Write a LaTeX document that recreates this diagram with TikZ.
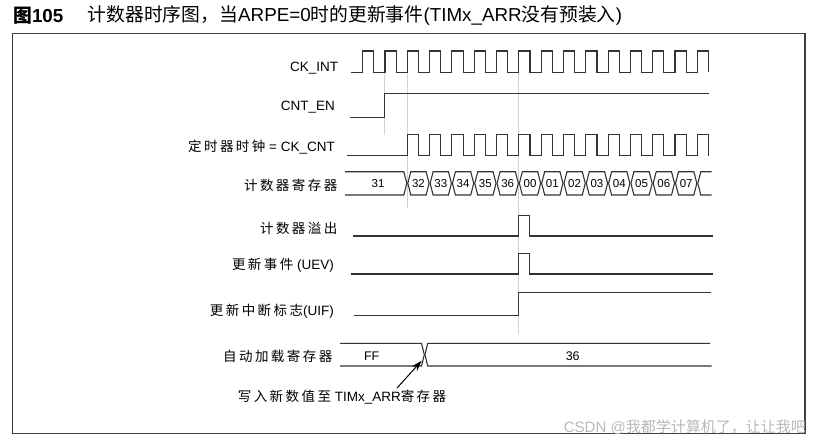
\documentclass[tikz,border=0pt]{standalone}
\usepackage{fontspec}
\setmainfont{Liberation Sans}
\newfontfamily\zh{Noto Sans CJK SC}
\newfontfamily\zhs[LetterSpace=18]{Noto Sans CJK SC}
\usetikzlibrary{arrows.meta, positioning}

\begin{document}
\begin{tikzpicture}[
            x = 1pt, y = -1pt,
            > = {Stealth[length=11pt, width=7pt]},
            wave/.style = {draw=black!80, line width=1.1pt},
            guide/.style = {draw=black!18, line width=0.9pt},
            lbl/.style = {anchor=east, inner sep=0pt, font=\fontsize{13.5}{15}\selectfont},
            val/.style = {inner sep=0pt, font=\fontsize{11.5}{13}\selectfont}
        ]
        \useasboundingbox (0,0) rectangle (819,444);
        \def\per{22.31}
        \def\hp{11.15}
        \def\rz{362.7}

        % frame and caption
        \draw[black!75, line width=1.4pt] (12.7,33.3) rectangle (805,433.3);
        \node[anchor=west, inner sep=0pt, font=\fontsize{18.8}{20}\selectfont] (fig) at (13,16)
            {{\zh\bfseries 图}\textbf{105}};
        \node[right=24pt of fig, inner sep=0pt, font=\fontsize{18.8}{20}\selectfont] (title)
            {{\zh 计数器时序图，当}ARPE=0{\zh 时的更新事件}(TIMx\_ARR{\zh 没有预装入})};

        % signal names
        \node[lbl] (ckint) at (338.3,68) {CK\_INT};
        \node[lbl] (cnten) at (335,107.5) {CNT\_EN};
        \node[lbl] (ckcnt) at (335,147.5) {{\zhs 定时器时钟} = CK\_CNT};
        \node[lbl] (cntreg) at (337.5,185) {\zhs 计数器寄存器};
        \node[lbl] (ovf) at (337.5,228.3) {\zhs 计数器溢出};
        \node[lbl] (uev) at (334,265) {{\zhs 更新事件} (UEV)};
        \node[lbl] (uif) at (334,311) {{\zhs 更新中断标志}(UIF)};
        \node[lbl] (arr) at (332.5,356) {\zhs 自动加载寄存器};

        % guide lines
        \draw[guide] (384.3,72.3) -- (384.3,135);
        \draw[guide] (407.3,72.3) -- (407.3,208);
        \draw[guide] (518.9,72.3) -- (518.9,334);

        % clocks and enable
        \draw[wave] (351,72.3) foreach \k in {0,...,15} {
            -- ({\rz+\per*\k},72.3) -- ++(0,-21.3) -- ++(\hp,0) -- ++(0,21.3) };
        \draw[wave] (350,117.3) -- (384.3,117.3) -- (384.3,93.3) -- (709.3,93.3);
        \draw[wave] (347.3,155.7) foreach \k in {2,...,15} {
            -- ({\rz+\per*\k},155.7) -- ++(0,-21.4) -- ++(\hp,0) -- ++(0,21.4) };

        % counter register
        \draw[wave] (345,171.7) -- (403.8,171.7) -- (406.8,183.3) -- (403.8,195) -- (345,195);
        \node[val] (cnt31) at (378,183.3) {31};
        \foreach \v [count=\j from 0] in {32,33,34,35,36,00,01,02,03,04,05,06,07} {
            \pgfmathsetmacro\a{407.3+\per*\j}
            \pgfmathsetmacro\b{\a+\per}
            \draw[wave] (\a+0.5,183.3) -- (\a+3.5,171.7) -- (\b-3.5,171.7) -- (\b-0.5,183.3)
                -- (\b-3.5,195) -- (\a+3.5,195) -- cycle;
            \node[val] (cnt\j) at ({\a+\per/2},183.3) {\v};
        }
        \draw[wave] (711.7,171.7) -- (700.8,171.7) -- (697.8,183.3) -- (700.8,195) -- (711.7,195);

        % overflow, update event, interrupt flag
        \draw[wave] (353.3,236) -- (518.9,236) -- (518.9,215.7) -- (529.3,215.7) -- (529.3,236) -- (712.7,236);
        \draw[wave] (350.7,274) -- (518.9,274) -- (518.9,253.3) -- (529.3,253.3) -- (529.3,274) -- (712.7,274);
        \draw[wave] (354,315.7) -- (518.9,315.7) -- (518.9,292.7) -- (711,292.7);

        % auto-reload register
        \draw[wave] (340,343.3) -- (421.5,343.3) -- (424.3,354.7) -- (421.5,366) -- (340,366);
        \draw[wave] (710,343.3) -- (427.7,343.3) -- (425,354.7) -- (427.7,366) -- (711.7,366);
        \node[val, font=\fontsize{12.5}{14}\selectfont] (ff) at (371.7,356) {FF};
        \node[val, font=\fontsize{12.5}{14}\selectfont] (v36) at (572.7,356) {36};

        % write note
        \coordinate (wr) at (421.7,360.7);
        \node[inner sep=0pt, font=\fontsize{13.5}{15}\selectfont] (note) at (342,397.3)
            {{\zhs 写入新数值至} TIMx\_ARR{\zhs 寄存器}};
        \draw[->, black, line width=1pt] ([xshift=55pt, yshift=2pt]note.north) -- (wr);

        % watermark
        \node[anchor=east, inner sep=0pt, text=black!28, font=\fontsize{15}{16}\selectfont] (mark) at (806,427.3)
            {CSDN @{\zh 我都学计算机了，让让我吧}};
    \end{tikzpicture}
\end{document}
